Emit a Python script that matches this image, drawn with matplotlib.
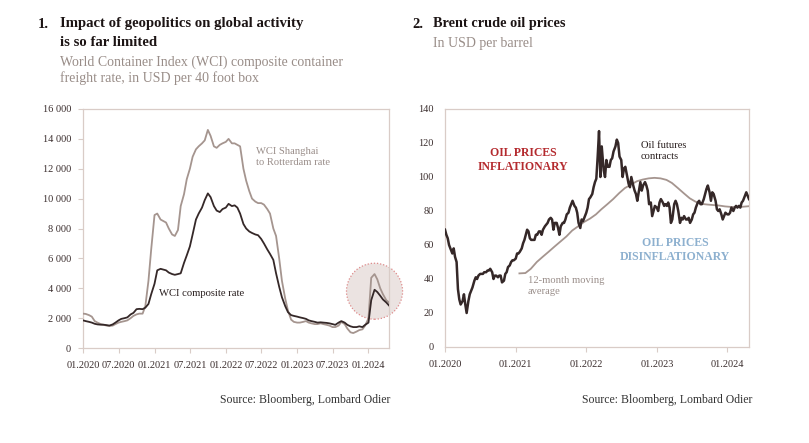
import numpy as np
import pandas as pd
import matplotlib
matplotlib.use('Agg')
import matplotlib.pyplot as plt
import matplotlib.dates as mdates
from matplotlib.patches import Ellipse
from matplotlib.ticker import FuncFormatter, MultipleLocator

plt.rcParams['font.family'] = ['Liberation Serif', 'DejaVu Serif']

# ---- chart 1: WCI freight rates, half-monthly readings ----
wci_dates = pd.date_range('2020-01-01', '2024-04-15', freq='SMS')
wci_composite = [
    1850, 1800, 1750, 1700, 1620, 1580, 1560, 1560, 1530, 1500, 1580, 1700,
    1850, 1950, 2000, 2050, 2250, 2350, 2600, 2620, 2600, 2700, 2950, 3600,
    4300, 5200, 5300, 5250, 5200, 5050, 4950, 4900, 4950, 5000, 5700, 6200,
    6800, 7600, 8600, 9000, 9400, 9900, 10350, 10100, 9500, 9200, 9100, 9300,
    9400, 9650, 9500, 9550, 9400, 9000, 8300, 8000, 7800, 7700, 7600, 7550,
    7300, 7000, 6600, 6300, 5900, 5000, 4100, 3400, 2800, 2400, 2200, 2150,
    2100, 2050, 2000, 1950, 1850, 1800, 1750, 1700, 1720, 1700, 1680, 1650,
    1600, 1550, 1700, 1800, 1700, 1550, 1450, 1400, 1400, 1450, 1400, 1550,
    1700, 3200, 3900, 3750, 3500, 3250, 3050, 2850,
]
wci_shanghai_rotterdam = [
    2300, 2280, 2200, 2100, 1800, 1700, 1600, 1550, 1500, 1480, 1500, 1600,
    1700, 1750, 1800, 1850, 2000, 2150, 2250, 2300, 2300, 2800, 4500, 6600,
    8900, 9000, 8600, 8500, 8400, 8000, 7600, 7500, 7900, 9500, 10300, 11300,
    12000, 12800, 13300, 13500, 13700, 13900, 14600, 14200, 13500, 13400, 13600, 13700,
    13800, 14000, 13700, 13700, 13600, 13500, 12000, 11200, 10500, 10000, 9800, 9700,
    9700, 9600, 9300, 9000, 8000, 7500, 6000, 4500, 3300, 2500, 1900, 1750,
    1700, 1700, 1750, 1800, 1700, 1650, 1600, 1600, 1650, 1600, 1550, 1500,
    1400, 1400, 1500, 1750, 1600, 1300, 1050, 1000, 1100, 1200, 1250, 1500,
    2000, 4700, 4950, 4600, 4000, 3600, 3200, 3050,
]
wci_xticks = pd.date_range('2020-01-01', '2024-01-01', freq='6MS')

# ---- chart 2: Brent, ~weekly readings (days 1, 8, 15, 22 of each month) ----
brent_months = pd.date_range('2020-01-01', '2024-04-01', freq='MS')
brent_days = [0, 7, 14, 21]
brent = [
    # 2020
    69, 66, 64, 60,   57, 55, 58, 53,   50, 34, 28, 25,   27, 31, 25, 20,
    27, 31, 33, 35,   39, 41, 40, 42,   43, 43, 43, 44,   44, 45, 45, 46,
    44, 40, 42, 42,   41, 42, 42, 38,   39, 43, 44, 47,   48, 50, 51, 51,
    # 2021
    52, 55, 55, 56,   58, 61, 63, 66,   69, 68, 64, 63,   63, 63, 66, 66,
    68, 68, 66, 69,   71, 72, 73, 75,   76, 75, 69, 73,   73, 70, 66, 71,
    73, 73, 75, 78,   79, 82, 84, 86,   83, 82, 79, 73,   70, 75, 74, 76,
    # 2022
    79, 82, 87, 88,   90, 94, 97, 99,   112, 127, 100, 118,   104, 100, 110, 106,
    106, 110, 111, 115,   118, 122, 120, 112,   110, 100, 105, 106,   100, 96, 94, 100,
    95, 92, 90, 86,   92, 97, 92, 95,   97, 95, 92, 84,   85, 77, 80, 83,
    # 2023
    82, 80, 85, 87,   85, 83, 84, 83,   85, 82, 73, 75,   84, 86, 84, 80,
    73, 76, 75, 77,   75, 75, 76, 73,   75, 78, 79, 82,   85, 86, 84, 84,
    87, 90, 93, 95,   91, 86, 91, 90,   86, 81, 80, 81,   78, 75, 77, 79,
    # 2024
    78, 78, 79, 82,   80, 82, 83, 82,   83, 82, 85, 86,   89, 91, 89, 87,
]
brent_dates = [m + pd.Timedelta(days=d) for m in brent_months for d in brent_days]

ma_dates = pd.date_range('2021-01-01', '2024-04-01', freq='MS') + pd.Timedelta(days=19)
brent_ma12 = [
    43.3, 43.5, 46, 50, 53, 56, 59, 62, 65, 68.5, 71, 73.5,
    75.5, 78, 81, 84, 87, 90.5, 93.5, 95.5, 97.5, 98.5, 99.2, 99.5,
    99.2, 98.3, 96.5, 93.5, 90.5, 87.5, 85.5, 84.2, 83.8, 83.5, 83.2, 82.7,
    82.4, 82.3, 82.5, 82.8,
]
brent_xticks = pd.date_range('2020-01-01', '2024-01-01', freq='12MS')

# ---- styling ----
W, H = 809, 443
DARK = '#352828'
LIGHT = '#a5958f'
FRAME = '#d9ccc7'
TICKTXT = '#3b2e2e'
GREY_TXT = '#998d88'


def px(x, y):
    return x / W, 1 - y / H


fig = plt.figure(figsize=(W / 100, H / 100), dpi=100)

ax1 = fig.add_axes([83 / W, 1 - 348 / H, (389 - 83) / W, (348 - 109) / H])
ax2 = fig.add_axes([445 / W, 1 - 347 / H, (749 - 445) / W, (347 - 109) / H])

for ax in (ax1, ax2):
    for s in ax.spines.values():
        s.set_color(FRAME)
        s.set_linewidth(0.9)
    ax.tick_params(colors=FRAME, labelcolor=TICKTXT, labelsize=7.5, length=3.5, width=0.8)

# left chart
ax1.plot(wci_dates, wci_shanghai_rotterdam, color=LIGHT, lw=1.3, zorder=3)
ax1.plot(wci_dates, wci_composite, color=DARK, lw=1.3, zorder=4)
ax1.set_xlim(pd.Timestamp('2020-01-01'), pd.Timestamp('2024-04-15'))
ax1.set_ylim(0, 16000)
ax1.yaxis.set_major_locator(MultipleLocator(2000))
ax1.yaxis.set_major_formatter(FuncFormatter(lambda v, p: '{:,.0f}'.format(v).replace(',', ' ')))
ax1.set_xticks(wci_xticks)
ax1.xaxis.set_major_formatter(mdates.DateFormatter('%m.%Y'))
ax1.tick_params(axis='y', pad=5)
ax1.tick_params(axis='x', pad=6)

# highlight circle around the 2024 jump
hl_center = mdates.date2num(pd.Timestamp('2024-02-01'))
circ = Ellipse((hl_center, 3800), width=287, height=3750, facecolor='#ebe3e1',
               edgecolor='#de8a8a', linestyle=(0, (1, 1.5)), linewidth=0.9,
               clip_on=False, zorder=2)
ax1.add_patch(circ)

# right chart
ax2.plot(ma_dates, brent_ma12, color=LIGHT, lw=1.3, zorder=3)
ax2.plot(brent_dates, brent, color=DARK, lw=1.8, zorder=4)
ax2.set_xlim(pd.Timestamp('2020-01-01'), pd.Timestamp('2024-04-22'))
ax2.set_ylim(0, 140)
ax2.yaxis.set_major_locator(MultipleLocator(20))
ax2.set_xticks(brent_xticks)
ax2.xaxis.set_major_formatter(mdates.DateFormatter('%m.%Y'))
ax2.tick_params(axis='y', length=0, pad=8)
ax2.tick_params(axis='x', pad=6)

# titles
fig.text(*px(38, 24), '1.', fontsize=10.5, fontweight='bold', color='#1c1414', va='center')
fig.text(*px(60, 24), 'Impact of geopolitics on global activity', fontsize=10.6,
         fontweight='bold', color='#1c1414', va='center')
fig.text(*px(60, 42), 'is so far limited', fontsize=10.6, fontweight='bold',
         color='#1c1414', va='center')
fig.text(*px(60, 62), 'World Container Index (WCI) composite container', fontsize=10,
         color=GREY_TXT, va='center')
fig.text(*px(60, 78), 'freight rate, in USD per 40 foot box', fontsize=10,
         color=GREY_TXT, va='center')

fig.text(*px(412, 24), '2.', fontsize=10.5, fontweight='bold', color='#1c1414', va='center')
fig.text(*px(433, 24), 'Brent crude oil prices', fontsize=10.3, fontweight='bold',
         color='#1c1414', va='center')
fig.text(*px(433, 44), 'In USD per barrel', fontsize=10, color=GREY_TXT, va='center')

# in-chart labels
fig.text(*px(256, 157), 'WCI Shanghai\nto Rotterdam rate', fontsize=7.6, color='#9a8e8a',
         va='center', linespacing=1.15)
fig.text(*px(159, 293), 'WCI composite rate', fontsize=7.7, color='#2a2020', va='center')

fig.text(*px(523, 160), 'OIL PRICES\nINFLATIONARY', fontsize=8.5, fontweight='bold',
         color='#b42a2e', ha='center', va='center', linespacing=1.3)
fig.text(*px(675, 250), 'OIL PRICES\nDISINFLATIONARY', fontsize=8.5, fontweight='bold',
         color='#8db0cf', ha='center', va='center', linespacing=1.3)
fig.text(*px(641, 151), 'Oil futures\ncontracts', fontsize=7.6, color='#2a2020',
         va='center', linespacing=1.15)
fig.text(*px(528, 286), '12-month moving\naverage', fontsize=7.6, color='#9a8e8a',
         va='center', linespacing=1.25)

# sources
fig.text(*px(390, 400), 'Source: Bloomberg, Lombard Odier', fontsize=8.5, color='#333333',
         ha='right', va='center')
fig.text(*px(752, 400), 'Source: Bloomberg, Lombard Odier', fontsize=8.5, color='#333333',
         ha='right', va='center')

fig.savefig('out.png', dpi=100, facecolor='white')
